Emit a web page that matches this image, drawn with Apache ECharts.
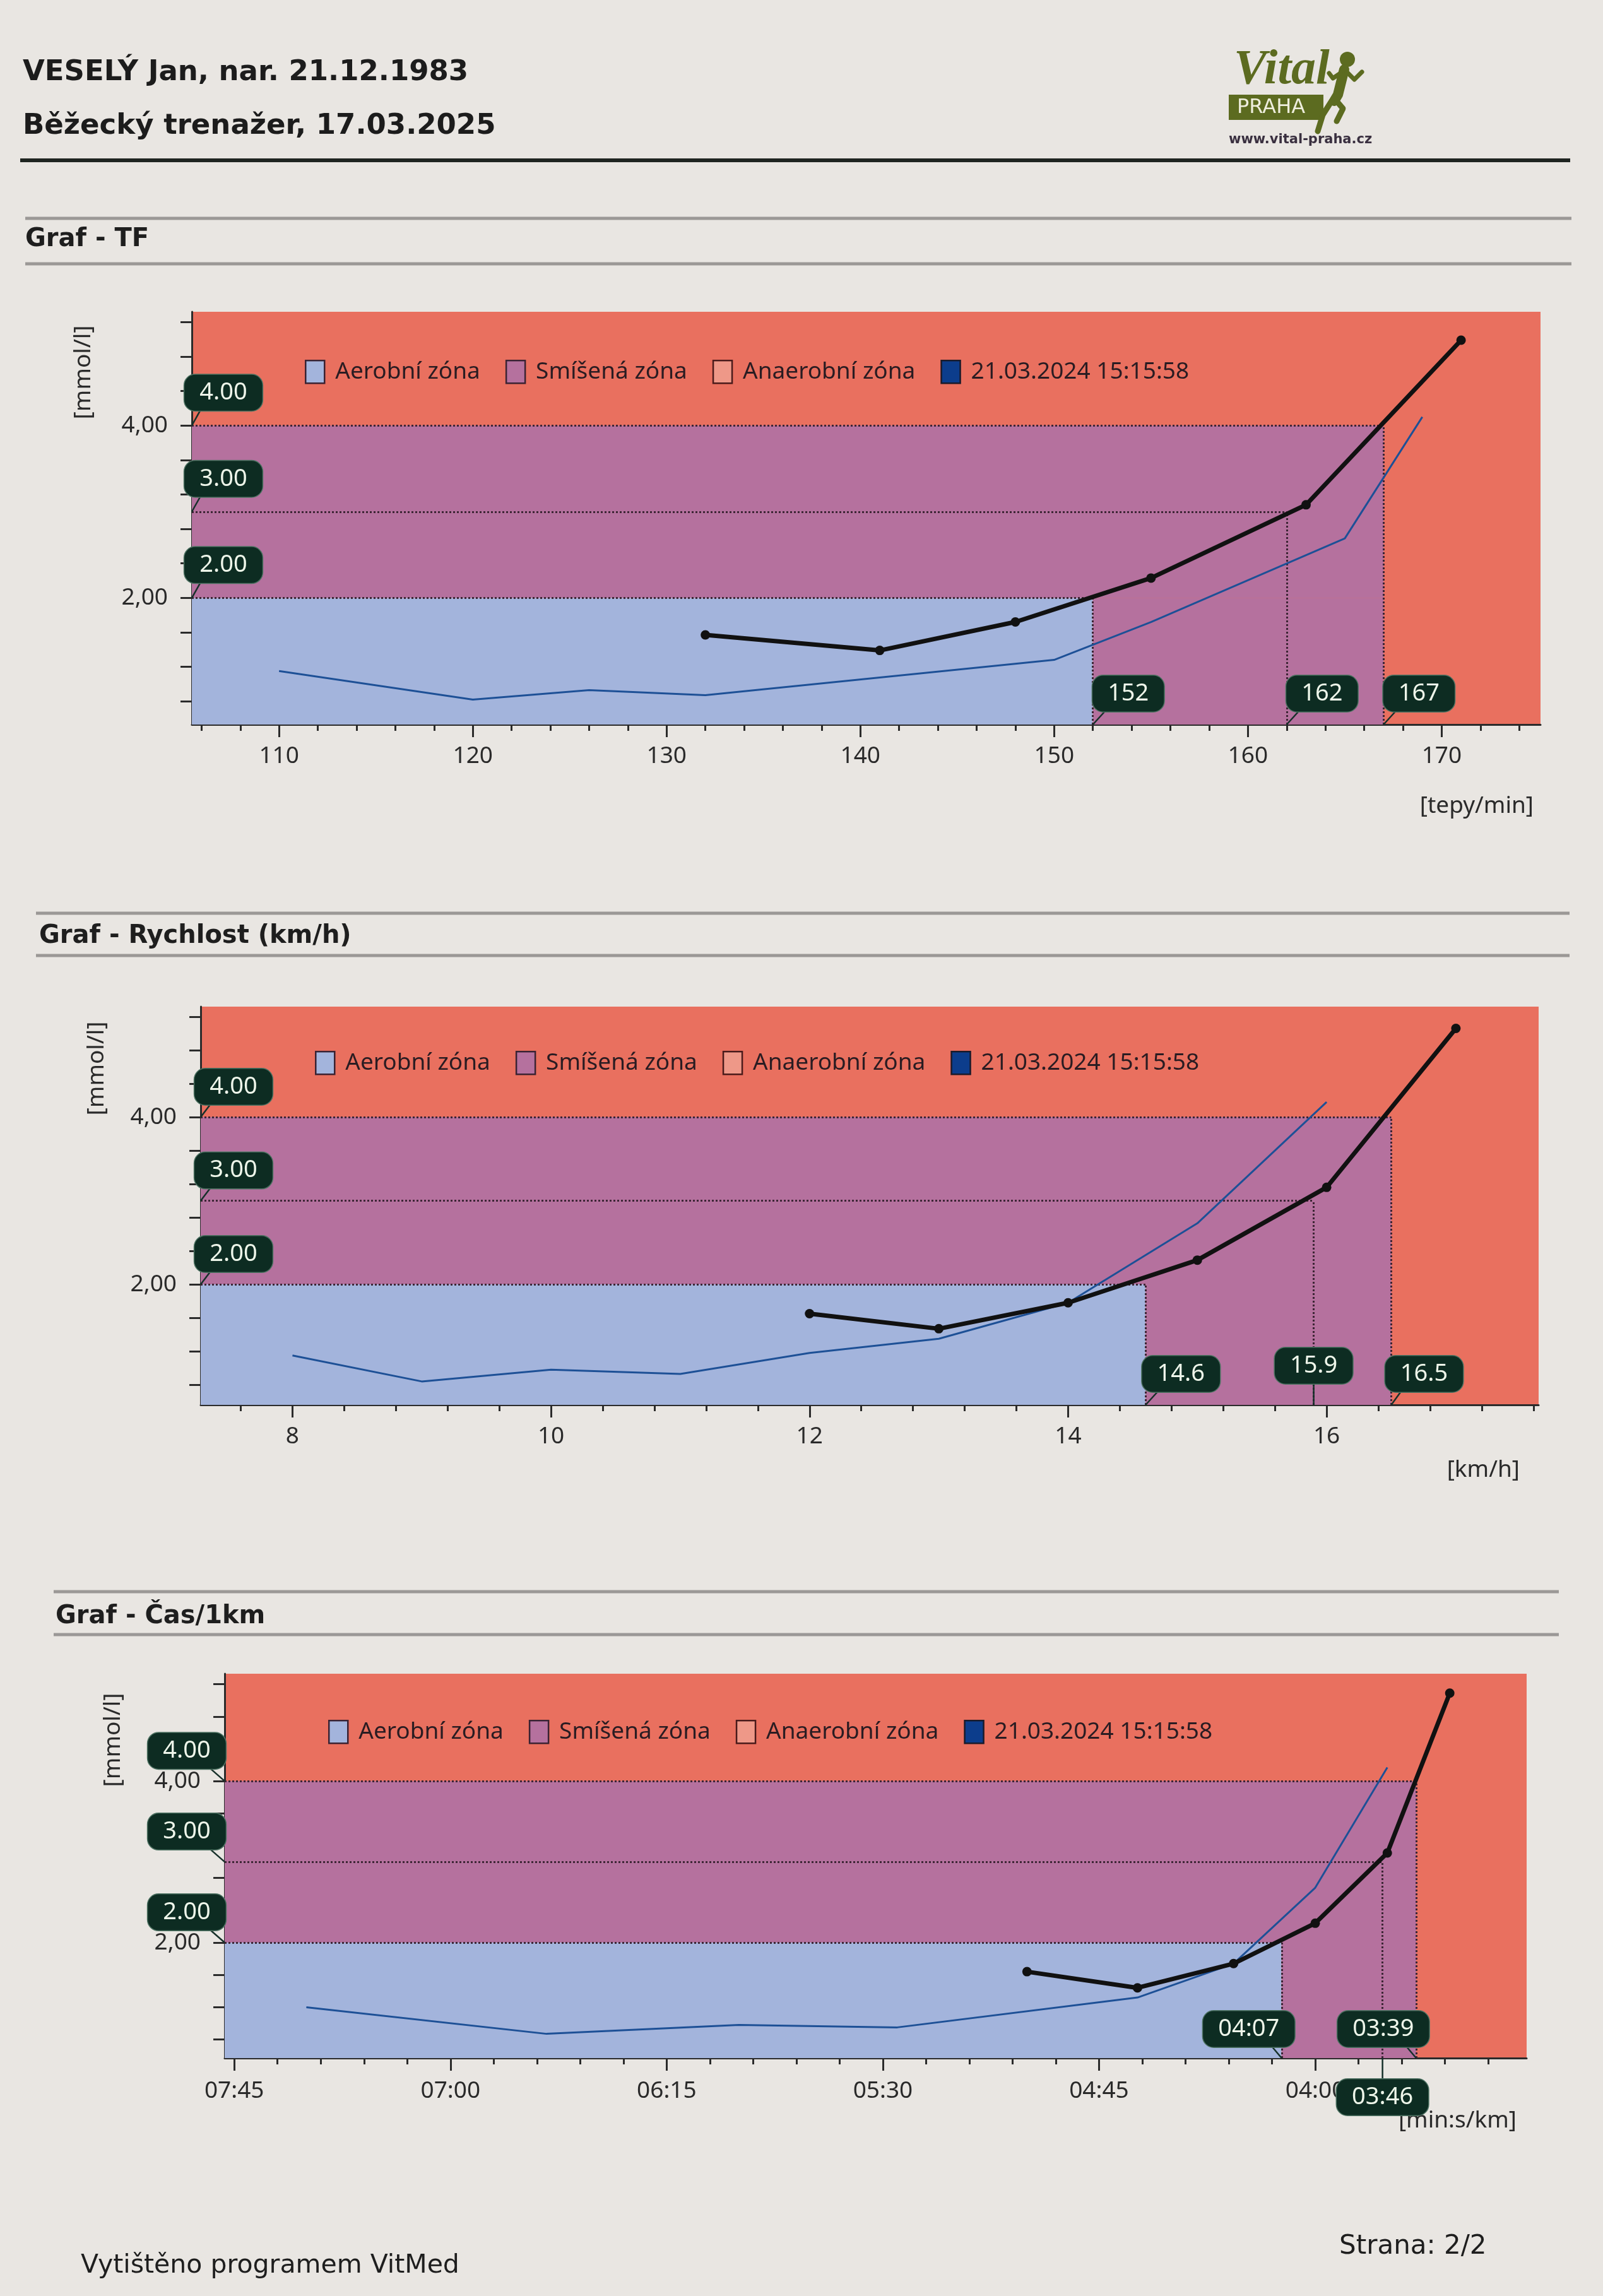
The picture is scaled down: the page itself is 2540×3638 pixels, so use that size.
<!DOCTYPE html>
<html><head><meta charset="utf-8">
<script src="https://cdn.jsdelivr.net/npm/echarts@6/dist/echarts.min.js"></script>
<style>html,body{margin:0;padding:0;background:#e9e6e2}#c{width:2540px;height:3638px}</style>
</head><body><div id="c"></div>
<script>
// ---------- DATA ----------
const lactateLevels = [2, 3, 4];
const levelLabels = ['2.00', '3.00', '4.00'];
const lactateTickLabels = [2, 4];

// Graf - TF (heart rate)
const hrCurrent = [132, 141, 148, 155, 163, 171];
const lacCurrentHR = [1.57, 1.39, 1.72, 2.23, 3.08, 4.99];
const hrPrev = [110, 120, 126, 132, 150, 155, 165, 169];
const lacPrevHR = [1.15, 0.82, 0.93, 0.87, 1.28, 1.72, 2.69, 4.10];
const hrThresholds = [152, 162, 167];
const hrTickLabels = [110, 120, 130, 140, 150, 160, 170];

// Graf - Rychlost (km/h)
const speedCurrent = [12, 13, 14, 15, 16, 17];
const lacCurrentSpeed = [1.65, 1.47, 1.78, 2.29, 3.16, 5.06];
const speedPrev = [8, 9, 10, 11, 12, 13, 14, 15, 16];
const lacPrevSpeed = [1.15, 0.84, 0.98, 0.93, 1.18, 1.35, 1.78, 2.73, 4.18];
const speedThresholds = [14.6, 15.9, 16.5];
const speedTickLabels = [8, 10, 12, 14, 16];

// Graf - Čas/1km (pace, seconds per km)
const paceCurrent = [300, 277, 257, 240, 225, 212];
const lacCurrentPace = [1.64, 1.44, 1.74, 2.24, 3.11, 5.09];
const pacePrev = [450, 400, 360, 327, 277, 257, 240, 225];
const lacPrevPace = [1.20, 0.87, 0.98, 0.95, 1.32, 1.74, 2.68, 4.17];
const paceThresholds = [247, 226, 219];
const paceTickLabels = [465, 420, 375, 330, 285, 240];

const legendNames = ['Aerobní zóna', 'Smíšená zóna', 'Anaerobní zóna', '21.03.2024 15:15:58'];

// ---------- STYLE ----------
const C_RED = '#e9705f', C_PURPLE = '#b5719e', C_BLUE = '#a3b4dc';
const C_AXIS = '#2b2b2b', C_DOT = '#3d2535', C_PREV = '#1d5096';
const FONT = '"Noto Sans", "Open Sans", sans-serif';

function ticks(a, b, step) { const r = []; for (let v = a; v <= b + 1e-9; v += step) r.push(Math.round(v * 1000) / 1000); return r; }
const pad2 = n => (n < 10 ? '0' : '') + n;
const fmtPace = s => pad2(Math.floor(s / 60)) + ':' + pad2(Math.round(s % 60));

const charts = [
  { grid: { left: 304, top: 494, width: 2137, height: 654 },
    xmin: 105.5, xmax: 175.1, inverse: false, xLabels: hrTickLabels, xMinor: ticks(106, 174, 2), xFmt: v => String(v),
    ymin: 0.53, ymax: 5.32,
    cur: [hrCurrent, lacCurrentHR], prev: [hrPrev, lacPrevHR], thr: hrThresholds, thrText: hrThresholds.map(String),
    thrOff: [[56, -49], [56, -49], [56, -49]], lvlOff: [50, -52],
    legend: { left: 478, top: 565 }, labelMargin: 32 },
  { grid: { left: 318, top: 1595, width: 2120, height: 631 },
    xmin: 7.29, xmax: 17.64, inverse: false, xLabels: speedTickLabels, xMinor: ticks(7.6, 17.6, 0.4), xFmt: v => String(v),
    ymin: 0.56, ymax: 5.32,
    cur: [speedCurrent, lacCurrentSpeed], prev: [speedPrev, lacPrevSpeed], thr: speedThresholds, thrText: speedThresholds.map(v => v.toFixed(1)),
    thrOff: [[56, -49], [0, -62], [52, -49]], lvlOff: [52, -48],
    legend: { left: 494, top: 1660 }, labelMargin: 32 },
  { grid: { left: 356, top: 2652, width: 2063, height: 609 },
    xmin: 196, xmax: 467, inverse: true, xLabels: paceTickLabels, xMinor: ticks(204, 465, 9), xFmt: fmtPace,
    ymin: 0.57, ymax: 5.33,
    cur: [paceCurrent, lacCurrentPace], prev: [pacePrev, lacPrevPace], thr: paceThresholds, thrText: paceThresholds.map(fmtPace),
    thrOff: [[-52, -46], [0, 62], [-52, -46]], lvlOff: [-60, -48],
    legend: { left: 515, top: 2720 }, labelMargin: 34 }
];

const grids = [], xAxes = [], yAxes = [], series = [], legends = [];
const yMinor = ticks(0.8, 5.2, 0.4);

charts.forEach((c, i) => {
  grids.push(Object.assign({ show: true, backgroundColor: C_RED, borderWidth: 0, containLabel: false }, c.grid));
  const xStart = c.inverse ? c.xmax : c.xmin;
  xAxes.push({ type: 'value', gridIndex: i, min: c.xmin, max: c.xmax, inverse: c.inverse, position: 'bottom',
    axisLine: { show: true, onZero: false, lineStyle: { color: C_AXIS, width: 3 } },
    axisTick: { show: true, customValues: c.xLabels, length: 20, lineStyle: { color: C_AXIS, width: 3 } },
    axisLabel: { customValues: c.xLabels, formatter: c.xFmt, fontSize: 37, color: '#2a2a2a', margin: c.labelMargin, fontFamily: FONT },
    splitLine: { show: false } });
  xAxes.push({ type: 'value', gridIndex: i, min: c.xmin, max: c.xmax, inverse: c.inverse, position: 'bottom',
    axisLine: { show: false, onZero: false },
    axisTick: { show: true, customValues: c.xMinor, length: 10, lineStyle: { color: C_AXIS, width: 3 } },
    axisLabel: { show: false }, splitLine: { show: false } });
  yAxes.push({ type: 'value', gridIndex: i, min: c.ymin, max: c.ymax,
    axisLine: { show: true, onZero: false, lineStyle: { color: C_AXIS, width: 3 } },
    axisTick: { show: true, customValues: yMinor, length: 18, lineStyle: { color: C_AXIS, width: 3 } },
    axisLabel: { customValues: lactateTickLabels, formatter: v => v.toFixed(2).replace('.', ','), fontSize: 37, color: '#2a2a2a', margin: 38, fontFamily: FONT },
    splitLine: { show: false } });
  const xi = i * 2, yi = i;
  const [t0, t1, t2] = c.thr;
  // zones
  series.push({ name: 'Aerobní zóna', type: 'line', xAxisIndex: xi, yAxisIndex: yi, data: [], itemStyle: { color: C_BLUE },
    markArea: { silent: true, z: 1, itemStyle: { color: C_BLUE }, data: [[{ coord: [xStart, c.ymin] }, { coord: [t0, 2] }]] } });
  series.push({ name: 'Smíšená zóna', type: 'line', xAxisIndex: xi, yAxisIndex: yi, data: [], itemStyle: { color: C_PURPLE },
    markArea: { silent: true, z: 1, itemStyle: { color: C_PURPLE }, data: [
      [{ coord: [xStart, 2] }, { coord: [t2, 4] }],
      [{ coord: [t0, c.ymin] }, { coord: [t2, 2] }]] } });
  const ml = [];
  c.thr.forEach((t, k) => {
    ml.push([{ coord: [xStart, lactateLevels[k]] }, { coord: [t, lactateLevels[k]] }]);
    ml.push([{ coord: [t, c.ymin] }, { coord: [t, lactateLevels[k]] }]);
  });
  series.push({ name: 'Anaerobní zóna', type: 'line', xAxisIndex: xi, yAxisIndex: yi, data: [], itemStyle: { color: C_RED },
    markLine: { silent: true, z: 3, symbol: 'none', label: { show: false }, lineStyle: { color: C_DOT, width: 3, type: 'dotted' }, data: ml } });
  // previous test (thin blue)
  series.push({ name: '21.03.2024 15:15:58', type: 'line', xAxisIndex: xi, yAxisIndex: yi, z: 4,
    data: c.prev[0].map((x, k) => [x, c.prev[1][k]]), symbol: 'none', itemStyle: { color: C_PREV },
    lineStyle: { color: C_PREV, width: 3 } });
  // current test (black)
  series.push({ name: 'Aktuální test', type: 'line', xAxisIndex: xi, yAxisIndex: yi, z: 5,
    data: c.cur[0].map((x, k) => [x, c.cur[1][k]]), symbol: 'circle', symbolSize: 15, itemStyle: { color: '#111' },
    lineStyle: { color: '#111', width: 7 } });
  // callout boxes
  const items = [];
  lactateLevels.forEach((l, k) => items.push({ v: [xStart, l, c.lvlOff[0], c.lvlOff[1]], text: levelLabels[k] }));
  c.thr.forEach((t, k) => items.push({ v: [t, c.ymin, c.thrOff[k][0], c.thrOff[k][1]], text: c.thrText[k] }));
  series.push({ name: 'labels' + i, type: 'custom', xAxisIndex: xi, yAxisIndex: yi, z: 10, clip: false, silent: true,
    data: items.map(d => d.v),
    renderItem: function (params, api) {
      const it = items[params.dataIndex];
      const p = api.coord([api.value(0), api.value(1)]);
      const dx = api.value(2), dy = api.value(3);
      const cx = p[0] + dx, cy = p[1] + dy;
      const ex = cx - Math.sign(dx) * 36, ey = cy - Math.sign(dy) * 27;
      return { type: 'group', children: [
        { type: 'line', shape: { x1: p[0], y1: p[1], x2: ex, y2: ey }, style: { stroke: '#16302a', lineWidth: 2.5 } },
        { type: 'text', x: cx, y: cy, style: { text: it.text, fill: '#eef6ea', font: '38px ' + FONT, align: 'center', verticalAlign: 'middle',
          lineHeight: 45, backgroundColor: '#0d2c22', padding: [6, 24], borderRadius: 17, borderColor: '#4d7262', borderWidth: 1.5 } }
      ] };
    } });
  legends.push({ left: c.legend.left, top: c.legend.top, orient: 'horizontal', itemWidth: 30, itemHeight: 36, itemGap: 40,
    selectedMode: false, textStyle: { fontSize: 37, color: '#2a1c22', fontFamily: FONT, padding: [0, 0, 0, 12] },
    data: [
      { name: legendNames[0], icon: 'rect', itemStyle: { color: C_BLUE, borderColor: '#3a2232', borderWidth: 2.5 } },
      { name: legendNames[1], icon: 'rect', itemStyle: { color: C_PURPLE, borderColor: '#3a2232', borderWidth: 2.5 } },
      { name: legendNames[2], icon: 'rect', itemStyle: { color: 'rgba(250,225,215,0.35)', borderColor: '#4a1a1a', borderWidth: 2.5 } },
      { name: legendNames[3], icon: 'rect', itemStyle: { color: '#0c3d8c', borderColor: '#1a1a2a', borderWidth: 2.5 } }
    ] });
});

// ---------- PAGE GRAPHICS ----------
const HFONT = '"DejaVu Sans", Verdana, sans-serif';
const txt = (x, y, text, font, fill, extra) => Object.assign({ type: 'text', x: x, y: y, silent: true,
  style: Object.assign({ text: text, font: font, fill: fill || '#1e1e1e', align: 'left', verticalAlign: 'middle' }, (extra && extra.style) || {}) },
  (extra && extra.el) || {});
const hline = (x1, x2, y, w, color) => ({ type: 'line', silent: true, shape: { x1: x1, y1: y, x2: x2, y2: y }, style: { stroke: color, lineWidth: w } });
const OLIVE = '#5c6b20';
const stroke = (pts, w) => ({ type: 'polyline', silent: true, shape: { points: pts }, style: { stroke: OLIVE, lineWidth: w, lineCap: 'round', lineJoin: 'round', fill: null } });
const graphics = [
  txt(36, 115, 'VESELÝ Jan, nar. 21.12.1983', 'bold 45px ' + HFONT, '#1c1c1c'),
  txt(36, 200, 'Běžecký trenažer, 17.03.2025', 'bold 45px ' + HFONT, '#1c1c1c'),
  hline(32, 2488, 254, 6, '#1f2521'),
  // logo
  txt(1955, 112, 'Vital', 'italic bold 78px "Liberation Serif", serif', OLIVE),
  { type: 'rect', silent: true, shape: { x: 1947, y: 150, width: 150, height: 40 }, style: { fill: OLIVE } },
  txt(1960, 171, 'PRAHA', '32px ' + HFONT, '#eeeedd'),
  { type: 'circle', silent: true, shape: { cx: 2135, cy: 94, r: 12 }, style: { fill: OLIVE } },
  stroke([[2130, 110], [2120, 150], [2114, 160]], 16),
  stroke([[2134, 114], [2146, 126], [2158, 114]], 7),
  stroke([[2124, 116], [2112, 124], [2106, 116]], 7),
  stroke([[2116, 158], [2128, 172], [2118, 192]], 9),
  stroke([[2110, 160], [2096, 182], [2088, 208]], 9),
  txt(1947, 222, 'www.vital-praha.cz', 'bold 21px ' + HFONT, '#3a3040'),
  // section headers
  hline(40, 2490, 346, 5, '#9b9896'), txt(40, 380, 'Graf - TF', 'bold 40px ' + HFONT, '#1e1e1e'), hline(40, 2490, 418, 5, '#9b9896'),
  hline(57, 2487, 1447, 5, '#9b9896'), txt(62, 1484, 'Graf - Rychlost (km/h)', 'bold 40px ' + HFONT, '#1e1e1e'), hline(57, 2487, 1514, 5, '#9b9896'),
  hline(85, 2470, 2522, 5, '#9b9896'), txt(88, 2562, 'Graf - Čas/1km', 'bold 40px ' + HFONT, '#1e1e1e'), hline(85, 2470, 2590, 5, '#9b9896'),
  // axis names
  txt(2430, 1277, '[tepy/min]', '37px ' + FONT, '#2a2a2a', { style: { align: 'right' } }),
  txt(2408, 2329, '[km/h]', '37px ' + FONT, '#2a2a2a', { style: { align: 'right' } }),
  txt(2403, 3360, '[min:s/km]', '37px ' + FONT, '#2a2a2a', { style: { align: 'right' } }),
  txt(132, 590, '[mmol/l]', '37px ' + FONT, '#2a2a2a', { style: { align: 'center' }, el: { rotation: Math.PI / 2 } }),
  txt(153, 1693, '[mmol/l]', '37px ' + FONT, '#2a2a2a', { style: { align: 'center' }, el: { rotation: Math.PI / 2 } }),
  txt(179, 2757, '[mmol/l]', '37px ' + FONT, '#2a2a2a', { style: { align: 'center' }, el: { rotation: Math.PI / 2 } }),
  // footer
  txt(128, 3590, 'Vytištěno programem VitMed', '41px ' + HFONT, '#1e1e1e'),
  txt(2122, 3560, 'Strana: 2/2', '42px ' + HFONT, '#1e1e1e')
];

const chart = echarts.init(document.getElementById('c'), null, { renderer: 'canvas' });
chart.setOption({
  animation: false,
  backgroundColor: '#e9e6e2',
  grid: grids, xAxis: xAxes, yAxis: yAxes, series: series, legend: legends,
  graphic: { elements: graphics }
});
</script></body></html>
